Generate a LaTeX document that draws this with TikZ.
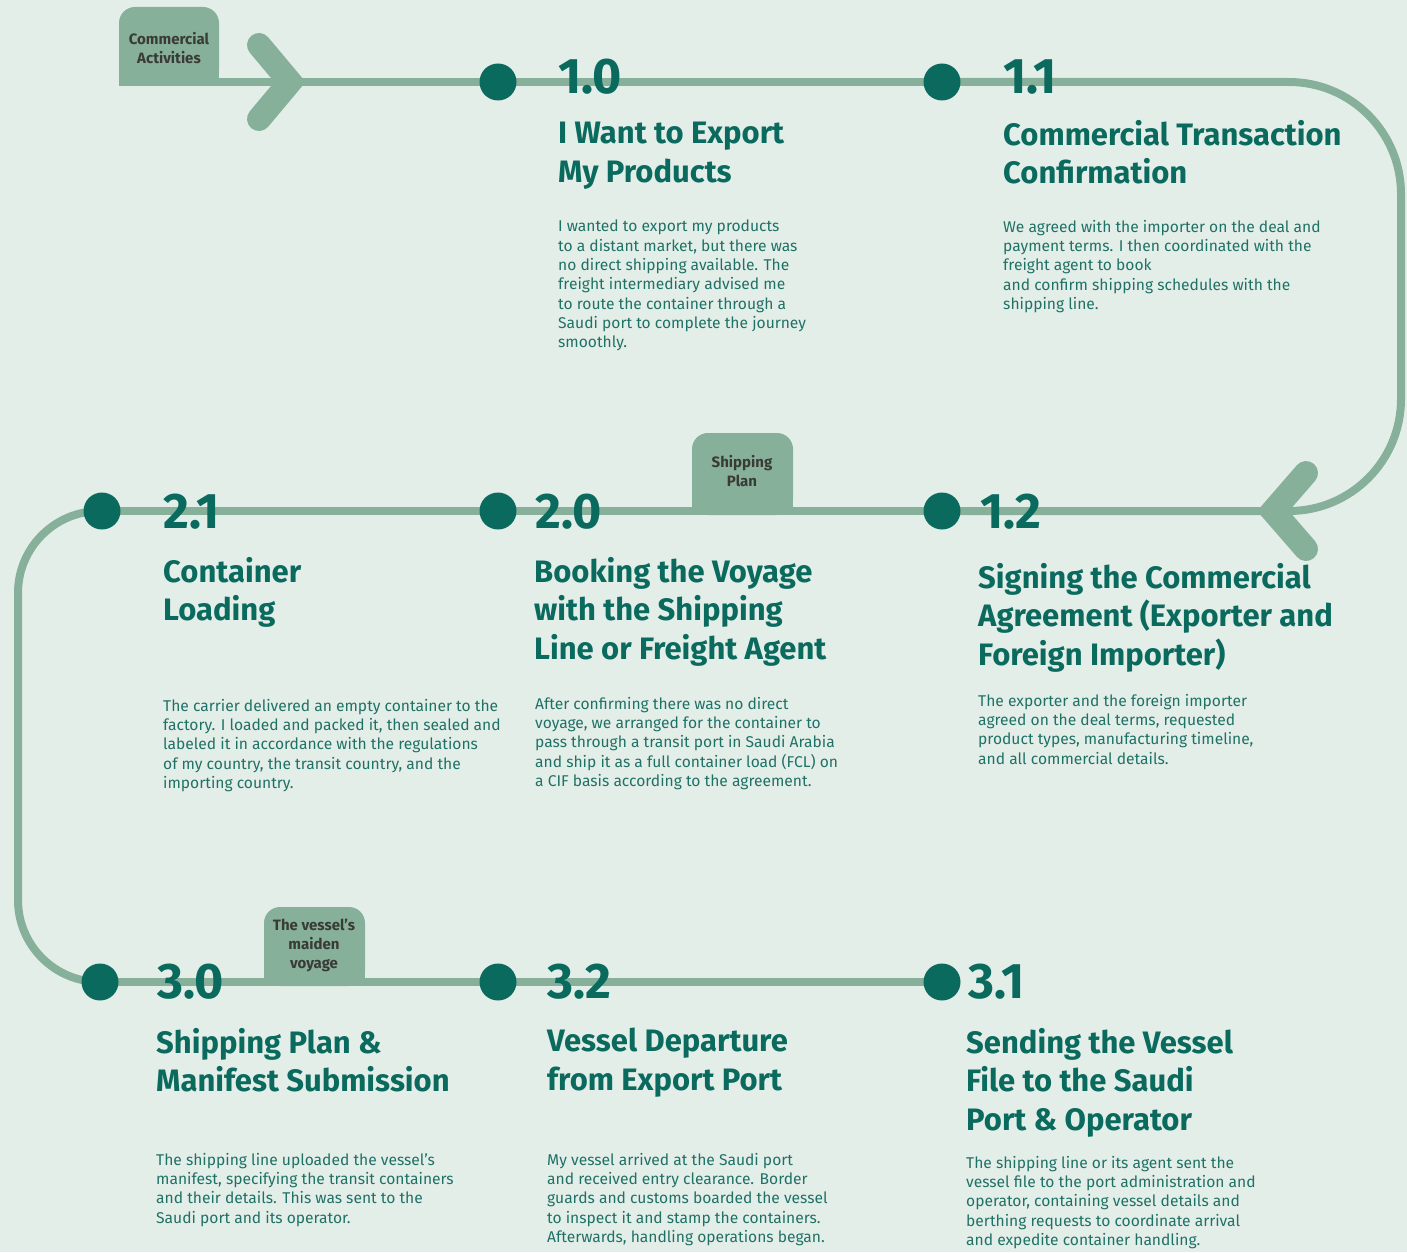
\documentclass[tikz,border=0pt]{standalone}
\usepackage{fontspec}
\setmainfont{Fira Sans}
\usepackage{tikz}
\usetikzlibrary{positioning,backgrounds}
\definecolor{PaleGreen}{HTML}{E4EEE9}
\definecolor{TrackGreen}{HTML}{86B09A}
\definecolor{DeepTeal}{HTML}{0A6A5E}
\definecolor{BodyTeal}{HTML}{1F7166}
\definecolor{TabText}{HTML}{3A3A36}

\begin{document}
\begin{tikzpicture}[x=1pt, y=-1pt,
  track/.style={line width=8pt, TrackGreen},
  chevron/.style={line width=24pt, TrackGreen, line cap=round, line join=miter},
  dot/.style={circle, fill=DeepTeal, minimum size=37pt, inner sep=0pt},
  stepnum/.style={anchor=west, inner sep=0pt, text=DeepTeal, font=\fontsize{50}{50}\selectfont\bfseries},
  steptitle/.style={anchor=north west, inner sep=0pt, align=left, text=DeepTeal, font=\fontsize{31}{38.5}\selectfont\bfseries},
  stepbody/.style={anchor=north west, inner sep=0pt, align=left, text=BodyTeal, font=\fontsize{15.6}{19.3}\selectfont},
  tablabel/.style={align=center, inner sep=0pt, text=TabText, font=\fontsize{15}{19}\selectfont\bfseries}]
  \useasboundingbox (0,0) rectangle (1407,1252);

  \coordinate (start) at (119,82);
  \node[dot] (d10) at (498,82) {};
  \node[dot] (d11) at (942,82) {};
  \node[dot] (d12) at (942,511) {};
  \node[dot] (d20) at (498,511) {};
  \node[dot] (d21) at (102,511) {};
  \node[dot] (d30) at (100,982) {};
  \node[dot] (d32) at (498,982) {};
  \node[dot] (d31) at (942,982) {};

  % the route, behind the dots
  \begin{scope}[on background layer]
  \fill[PaleGreen] (0,0) rectangle (1407,1252);
  \draw[track] (start) -- (d10.center) -- (d11.center);
  \draw[track, rounded corners=112] (d11.center) -- (1401,82) -- (1401,511) -- (d12.center);
  \draw[track] (d12.center) -- (d20.center) -- (d21.center);
  \draw[track, rounded corners=82] (d21.center) -- (18,511) -- (18,982) -- (d30.center);
  \draw[track] (d30.center) -- (d32.center) -- (d31.center);
  \end{scope}

  % tabs
  \fill[TrackGreen, rounded corners=16] (119,86) -- (119,7) -- (219,7) -- (219,86) -- cycle;
  \fill[TrackGreen] (119,50) rectangle (219,86);
  \node[tablabel] (tabca) at (169,48) {Commercial\\Activities};
  \fill[TrackGreen, rounded corners=16] (692,515) -- (692,433) -- (793,433) -- (793,515) -- cycle;
  \fill[TrackGreen] (692,480) rectangle (793,515);
  \node[tablabel] (tabsp) at (742,471) {Shipping\\Plan};
  \fill[TrackGreen, rounded corners=16] (264,986) -- (264,907) -- (365,907) -- (365,986) -- cycle;
  \fill[TrackGreen] (264,950) rectangle (365,986);
  \node[tablabel] (tabvv) at (314,945) {The vessel’s\\maiden\\voyage};

  \draw[chevron] (259,45) -- (290,82) -- (259,119);
  \draw[chevron] (1306,473) -- (1273,511) -- (1306,549);

  % step 1.0
  \node[stepnum] (n10) at (558,77) {1.0};
  \node[steptitle] (t10) at (558,122) {I Want to Export\\My Products};
  \node[stepbody] (b10) at (558,220) {I wanted to export my products\\to a distant market, but there was\\no direct shipping available. The\\freight intermediary advised me\\to route the container through a\\Saudi port to complete the journey\\smoothly.};

  % step 1.1
  \node[stepnum] (n11) at (1003,77) {1.1};
  \node[steptitle] (t11) at (1003,120) {Commercial Transaction\\Confirmation};
  \node[stepbody] (b11) at (1003,220) {We agreed with the importer on the deal and\\payment terms. I then coordinated with the\\freight agent to book\\and confirm shipping schedules with the\\shipping line.};

  % step 1.2
  \node[stepnum] (n12) at (980,512) {1.2};
  \node[steptitle] (t12) at (978,563) {Signing the Commercial\\Agreement (Exporter and\\Foreign Importer)};
  \node[stepbody] (b12) at (978,694) {The exporter and the foreign importer\\agreed on the deal terms, requested\\product types, manufacturing timeline,\\and all commercial details.};

  % step 2.0
  \node[stepnum] (n20) at (535,512) {2.0};
  \node[steptitle] (t20) at (534,557) {Booking the Voyage\\with the Shipping\\Line or Freight Agent};
  \node[stepbody] (b20) at (535,697) {After confirming there was no direct\\voyage, we arranged for the container to\\pass through a transit port in Saudi Arabia\\and ship it as a full container load (FCL) on\\a CIF basis according to the agreement.};

  % step 2.1
  \node[stepnum] (n21) at (163,512) {2.1};
  \node[steptitle] (t21) at (163,557) {Container\\Loading};
  \node[stepbody] (b21) at (163,699) {The carrier delivered an empty container to the\\factory. I loaded and packed it, then sealed and\\labeled it in accordance with the regulations\\of my country, the transit country, and the\\importing country.};

  % step 3.0
  \node[stepnum] (n30) at (157,982) {3.0};
  \node[steptitle] (t30) at (156,1028) {Shipping Plan \&\\Manifest Submission};
  \node[stepbody] (b30) at (156,1153) {The shipping line uploaded the vessel’s\\manifest, specifying the transit containers\\and their details. This was sent to the\\Saudi port and its operator.};

  % step 3.2
  \node[stepnum] (n32) at (547,982) {3.2};
  \node[steptitle] (t32) at (547,1028) {Vessel Departure\\from Export Port};
  \node[stepbody] (b32) at (547,1153) {My vessel arrived at the Saudi port\\and received entry clearance. Border\\guards and customs boarded the vessel\\to inspect it and stamp the containers.\\Afterwards, handling operations began.};

  % step 3.1
  \node[stepnum] (n31) at (968,982) {3.1};
  \node[steptitle] (t31) at (966,1028) {Sending the Vessel\\File to the Saudi\\Port \& Operator};
  \node[stepbody] (b31) at (966,1156) {The shipping line or its agent sent the\\vessel file to the port administration and\\operator, containing vessel details and\\berthing requests to coordinate arrival\\and expedite container handling.};
\end{tikzpicture}
\end{document}
